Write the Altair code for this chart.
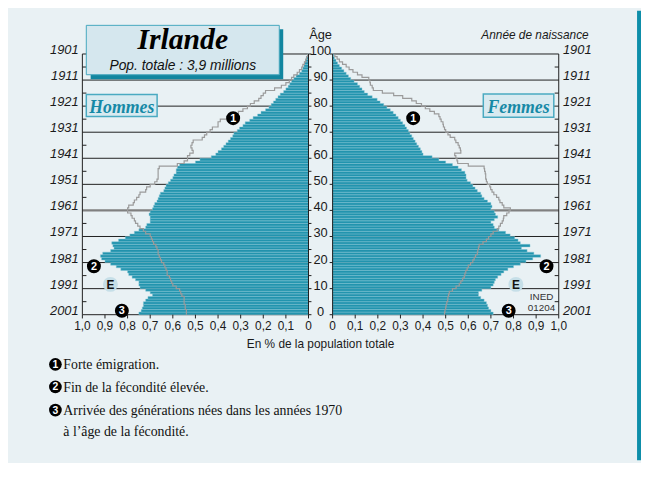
import altair as alt
import pandas as pd

# ---------------- data ----------------
ages = list(range(100))

men = [0.75, 0.74, 0.735, 0.73, 0.73, 0.72, 0.71, 0.69, 0.70, 0.72,
       0.745, 0.75, 0.75, 0.765, 0.78, 0.795, 0.80, 0.83, 0.85, 0.875,
       0.90, 0.915, 0.92, 0.91, 0.875, 0.86, 0.865, 0.87, 0.84, 0.81,
       0.79, 0.77, 0.75, 0.72, 0.715, 0.70, 0.70, 0.70, 0.705, 0.70,
       0.69, 0.685, 0.68, 0.67, 0.665, 0.66, 0.655, 0.64, 0.635, 0.63,
       0.62, 0.61, 0.60, 0.595, 0.585, 0.585, 0.58, 0.57, 0.50, 0.48,
       0.43, 0.41, 0.40, 0.385, 0.375, 0.365, 0.355, 0.345, 0.335, 0.33,
       0.315, 0.305, 0.29, 0.28, 0.26, 0.245, 0.225, 0.21, 0.19, 0.175,
       0.165, 0.155, 0.145, 0.135, 0.125, 0.11, 0.10, 0.09, 0.083, 0.075,
       0.065, 0.055, 0.04, 0.03, 0.025, 0.02, 0.017, 0.013, 0.01, 0.006]

women = [0.71, 0.70, 0.69, 0.685, 0.68, 0.67, 0.655, 0.645, 0.645, 0.66,
         0.70, 0.71, 0.715, 0.72, 0.73, 0.745, 0.757, 0.775, 0.80, 0.83,
         0.855, 0.885, 0.92, 0.89, 0.86, 0.835, 0.873, 0.83, 0.82, 0.805,
         0.785, 0.765, 0.735, 0.715, 0.71, 0.70, 0.715, 0.73, 0.72, 0.715,
         0.70, 0.705, 0.70, 0.685, 0.67, 0.66, 0.655, 0.64, 0.63, 0.62,
         0.61, 0.595, 0.59, 0.59, 0.585, 0.57, 0.555, 0.53, 0.50, 0.47,
         0.44, 0.40, 0.395, 0.388, 0.38, 0.372, 0.365, 0.357, 0.35, 0.342,
         0.335, 0.327, 0.32, 0.31, 0.30, 0.29, 0.28, 0.268, 0.255, 0.24,
         0.226, 0.21, 0.197, 0.175, 0.155, 0.14, 0.13, 0.12, 0.11, 0.095,
         0.08, 0.07, 0.06, 0.05, 0.04, 0.03, 0.022, 0.015, 0.008, 0.004]

men_ref = [0.54, 0.54, 0.545, 0.545, 0.55, 0.55, 0.55, 0.56, 0.565, 0.57,
           0.585, 0.60, 0.605, 0.61, 0.615, 0.625, 0.625, 0.63, 0.635, 0.64,
           0.65, 0.655, 0.66, 0.665, 0.665, 0.67, 0.675, 0.685, 0.69, 0.695,
           0.70, 0.72, 0.73, 0.745, 0.755, 0.765, 0.77, 0.78, 0.785, 0.80,
           0.80, 0.795, 0.775, 0.77, 0.76, 0.75, 0.745, 0.72, 0.716, 0.70,
           0.68, 0.67, 0.665, 0.665, 0.665, 0.665, 0.66, 0.58, 0.55, 0.535,
           0.535, 0.525, 0.51, 0.515, 0.52, 0.515, 0.51, 0.47, 0.46, 0.45,
           0.435, 0.425, 0.40, 0.40, 0.39, 0.36, 0.33, 0.31, 0.29, 0.27,
           0.257, 0.24, 0.22, 0.21, 0.20, 0.19, 0.15, 0.12, 0.10, 0.085,
           0.075, 0.065, 0.05, 0.04, 0.03, 0.025, 0.018, 0.012, 0.008, 0.004]

women_ref = [0.495, 0.497, 0.50, 0.502, 0.505, 0.509, 0.51, 0.513, 0.516, 0.53,
             0.546, 0.56, 0.567, 0.575, 0.582, 0.585, 0.589, 0.595, 0.60, 0.61,
             0.62, 0.626, 0.632, 0.64, 0.642, 0.645, 0.648, 0.665, 0.68, 0.69,
             0.70, 0.71, 0.728, 0.735, 0.742, 0.75, 0.755, 0.757, 0.77, 0.78,
             0.786, 0.757, 0.75, 0.74, 0.735, 0.725, 0.713, 0.705, 0.699, 0.695,
             0.684, 0.68, 0.677, 0.677, 0.675, 0.672, 0.67, 0.60, 0.553, 0.55,
             0.545, 0.54, 0.567, 0.565, 0.56, 0.555, 0.545, 0.54, 0.52, 0.51,
             0.50, 0.495, 0.49, 0.488, 0.48, 0.475, 0.47, 0.45, 0.43, 0.41,
             0.393, 0.37, 0.35, 0.31, 0.27, 0.22, 0.18, 0.175, 0.167, 0.165,
             0.16, 0.13, 0.11, 0.09, 0.073, 0.06, 0.044, 0.03, 0.02, 0.01]

x_ticks = [0.0, 0.1, 0.2, 0.3, 0.4, 0.5, 0.6, 0.7, 0.8, 0.9, 1.0]
x_tick_labels = ["0", "0,1", "0,2", "0,3", "0,4", "0,5", "0,6", "0,7", "0,8", "0,9", "1,0"]
grid_ages = [0, 10, 20, 30, 40, 50, 60, 70, 80, 90, 100]
age_labels = ["0", "10", "20", "30", "40", "50", "60", "70", "80", "90", "100"]
birth_years = ["2001", "1991", "1981", "1971", "1961", "1951", "1941", "1931", "1921", "1911", "1901"]
minor_ages = [5, 15, 25, 35, 45, 55, 65, 75, 85, 95]
five_ages = [0, 5, 10, 15, 20, 25, 30, 35, 40, 45, 50, 55, 60, 65, 70, 75, 80, 85, 90, 95, 100]
notes = ["Forte émigration.", "Fin de la fécondité élevée.",
         "Arrivée des générations nées dans les années 1970",
         "à l’âge de la fécondité."]

# ---------------- layout helpers ----------------
W, H_ = 641, 455
G = 0.05328          # half gap between the two pyramids (in % units)
TK = 0.018           # tick length in % units
XS = alt.Scale(domain=[-1.3821, 1.4170], nice=False, zero=False)
YS = alt.Scale(domain=[-55.795, 116.553], nice=False, zero=False)

TEAL = "#0e8ea9"
BAR = "#2294ae"
SANS = "Liberation Sans Narrow, Liberation Sans, Arial, sans-serif"
SERIF = "Liberation Serif, Times New Roman, serif"


def X(f):
    return alt.X(f, scale=XS, axis=None)


def Y(f):
    return alt.Y(f, scale=YS, axis=None)


one = pd.DataFrame({"k": [0]})


def txt(s, x, y, **kw):
    return alt.Chart(one).mark_text(**kw).encode(
        x=alt.value(x), y=alt.value(y), text=alt.value(s))


def box(x0, x1, y0, y1, **kw):
    return alt.Chart(one).mark_rect(**kw).encode(
        x=alt.value(x0), x2=alt.value(x1), y=alt.value(y0), y2=alt.value(y1))


# ---------------- tables ----------------
bar_rows = []
for a, v in zip(ages, men):
    bar_rows.append({"age": a, "top": a + 1, "x0": -G, "x1": -(v + G)})
for a, v in zip(ages, women):
    bar_rows.append({"age": a, "top": a + 1, "x0": G, "x1": v + G})
bars_df = pd.DataFrame(bar_rows)

line_rows = []
for side, vals, sgn in (("H", men_ref, -1), ("F", women_ref, 1)):
    for a, v in zip(ages, vals):
        line_rows.append({"side": side, "seq": 2 * a, "x": sgn * (v + G), "age": a})
        line_rows.append({"side": side, "seq": 2 * a + 1, "x": sgn * (v + G), "age": a + 1})
line_df = pd.DataFrame(line_rows)

grid_rows = []
for g in grid_ages:
    grid_rows.append({"age": g, "x0": -G, "x1": -(1 + G)})
    grid_rows.append({"age": g, "x0": G, "x1": 1 + G})
grid_df = pd.DataFrame(grid_rows)

edge_df = pd.DataFrame({"x": [-G, -(1 + G), G, 1 + G], "a0": [0] * 4, "a1": [100] * 4})

tick_rows = []
for m in minor_ages:
    tick_rows.append({"age": m, "x0": -(1 + G), "x1": -(1 + G) + TK})
    tick_rows.append({"age": m, "x0": 1 + G, "x1": 1 + G - TK})
for m in five_ages:
    tick_rows.append({"age": m, "x0": -G, "x1": -G + 0.013})
for g in grid_ages:
    tick_rows.append({"age": g, "x0": G, "x1": G - 0.013})
tick_df = pd.DataFrame(tick_rows)

xt_rows = []
for t, lab in zip(x_ticks, x_tick_labels):
    xt_rows.append({"x": -(t + G), "lab": lab})
    xt_rows.append({"x": t + G, "lab": lab})
xt_df = pd.DataFrame(xt_rows)

age_df = pd.DataFrame({"age": grid_ages, "lab": age_labels, "year": birth_years})

# ---------------- layers ----------------
layers = []

# right teal border
layers.append(box(637, 641, 0, H_, fill=TEAL))

# grid lines (under the bars)
layers.append(alt.Chart(grid_df).mark_rule().encode(
    x=X("x0:Q"), x2="x1", y=Y("age:Q"),
    color=alt.condition(alt.datum.age == 40, alt.value("#808080"), alt.value("#1e1e1e")),
    strokeWidth=alt.condition(alt.datum.age == 40, alt.value(2.2), alt.value(1))))

# bars
layers.append(alt.Chart(bars_df).mark_rect(fill=BAR, stroke="#86c7d6", strokeWidth=0.45).encode(
    x=X("x0:Q"), x2="x1", y=Y("age:Q"), y2="top"))

# reference outline
layers.append(alt.Chart(line_df).mark_line(color="#9b9b9b", strokeWidth=1.2).encode(
    x=X("x:Q"), y=Y("age:Q"), detail="side:N", order="seq:Q"))

# frame edges and ticks
layers.append(alt.Chart(edge_df).mark_rule(color="#1e1e1e", strokeWidth=1).encode(
    x=X("x:Q"), y=Y("a0:Q"), y2="a1"))
layers.append(alt.Chart(tick_df).mark_rule(color="#1e1e1e", strokeWidth=1).encode(
    x=X("x0:Q"), x2="x1", y=Y("age:Q")))
layers.append(alt.Chart(xt_df).mark_rule(color="#1e1e1e", strokeWidth=1).encode(
    x=X("x:Q"), y=alt.value(307.7), y2=alt.value(311.5)))

# x tick labels
layers.append(alt.Chart(xt_df).mark_text(font=SANS, fontSize=12, color="#1a1a1a",
                                         align="center", baseline="alphabetic").encode(
    x=X("x:Q"), y=alt.value(323.5), text="lab:N"))

# age labels in the middle
layers.append(alt.Chart(age_df).mark_text(font=SANS, fontSize=13, color="#1a1a1a",
                                          align="center", baseline="alphabetic", dy=1).encode(
    x=alt.value(316.5), y=Y("age:Q"), text="lab:N"))

# birth-year labels
layers.append(alt.Chart(age_df).mark_text(font=SANS, fontSize=13, fontStyle="italic", color="#1a1a1a",
                                          align="right", baseline="alphabetic").encode(
    x=alt.value(71.5), y=Y("age:Q"), text="year:N"))
layers.append(alt.Chart(age_df).mark_text(font=SANS, fontSize=13, fontStyle="italic", color="#1a1a1a",
                                          align="left", baseline="alphabetic").encode(
    x=alt.value(562), y=Y("age:Q"), text="year:N"))

# headings
layers.append(txt("Âge", 316.5, 29, font=SANS, fontSize=13, color="#1a1a1a",
                  align="center", baseline="alphabetic"))
layers.append(txt("Année de naissance", 588, 29, font=SANS, fontSize=12, fontStyle="italic",
                  color="#1a1a1a", align="right", baseline="alphabetic"))
layers.append(txt("En % de la population totale", 316.5, 341, font=SANS, fontSize=12,
                  color="#1a1a1a", align="center", baseline="alphabetic"))

# title box
layers.append(box(83.7, 278.7, 18.7, 69.3, fill="#1286a0"))
layers.append(box(79.3, 274.7, 14.7, 64.7, fill="#d5e7ee", stroke="#45a7be", strokeWidth=1))
layers.append(txt("Irlande", 177, 38.7, font=SERIF, fontSize=30, fontWeight="bold",
                  fontStyle="italic", color="#000000", align="center", baseline="alphabetic"))
layers.append(txt("Pop. totale : 3,9 millions", 177, 59.5, font=SANS, fontSize=14,
                  fontStyle="italic", color="#111111", align="center", baseline="alphabetic"))

# sex boxes
layers.append(box(79.3, 151, 84.7, 107, fill="#d8eaf0", stroke="#4aaac1", strokeWidth=1.5))
layers.append(txt("Hommes", 115.2, 103.3, font=SERIF, fontSize=18, fontWeight="bold",
                  fontStyle="italic", color="#1689a6", align="center", baseline="alphabetic"))
layers.append(box(481.3, 552.7, 84.3, 107.7, fill="#d8eaf0", stroke="#4aaac1", strokeWidth=1.5))
layers.append(txt("Femmes", 517, 103.3, font=SERIF, fontSize=18, fontWeight="bold",
                  fontStyle="italic", color="#1689a6", align="center", baseline="alphabetic"))

# numbered markers in the chart
marks_pos = [("1", 228, 108.7), ("1", 410.3, 108.7), ("2", 87, 258.7), ("2", 545.3, 258.7),
             ("3", 115.3, 303.7), ("3", 507, 303.7)]
for lab, x, y in marks_pos:
    layers.append(alt.Chart(one).mark_circle(size=200, color="#000000", opacity=1).encode(
        x=alt.value(x), y=alt.value(y)))
    layers.append(txt(lab, x, y + 0.5, font="Liberation Sans", fontSize=11, fontWeight="bold",
                      color="#ffffff", align="center", baseline="middle"))
for x, y in ((103.7, 277), (514.3, 277)):
    layers.append(alt.Chart(one).mark_circle(size=230, color="#c6dfe8", opacity=1).encode(
        x=alt.value(x), y=alt.value(y)))
    layers.append(txt("E", x, y + 0.5, font="Liberation Sans", fontSize=12, fontWeight="bold",
                      color="#111111", align="center", baseline="middle"))
layers.append(txt("INED", 540.3, 293, font=SANS, fontSize=10, color="#333333",
                  align="center", baseline="alphabetic"))
layers.append(txt("01204", 540.3, 304, font=SANS, fontSize=10, color="#333333",
                  align="center", baseline="alphabetic"))

# notes below
note_y = [362.5, 386, 409.3, 430.3]
for i, (s, y) in enumerate(zip(notes, note_y)):
    layers.append(txt(s, 56, y, font=SERIF, fontSize=14, color="#111111",
                      align="left", baseline="alphabetic"))
for lab, y in (("1", 358), ("2", 380.8), ("3", 404.3)):
    layers.append(alt.Chart(one).mark_circle(size=165, color="#000000", opacity=1).encode(
        x=alt.value(48), y=alt.value(y)))
    layers.append(txt(lab, 48, y + 0.5, font="Liberation Sans", fontSize=10.5, fontWeight="bold",
                      color="#ffffff", align="center", baseline="middle"))

chart = alt.layer(*layers).properties(
    width=W, height=H_,
    autosize=alt.AutoSizeParams(type="none"),
    padding=0,
    background="#e9f1f4",
).configure_view(stroke=None)

chart.save("out.html", embed_options={"renderer": "svg", "actions": False})
